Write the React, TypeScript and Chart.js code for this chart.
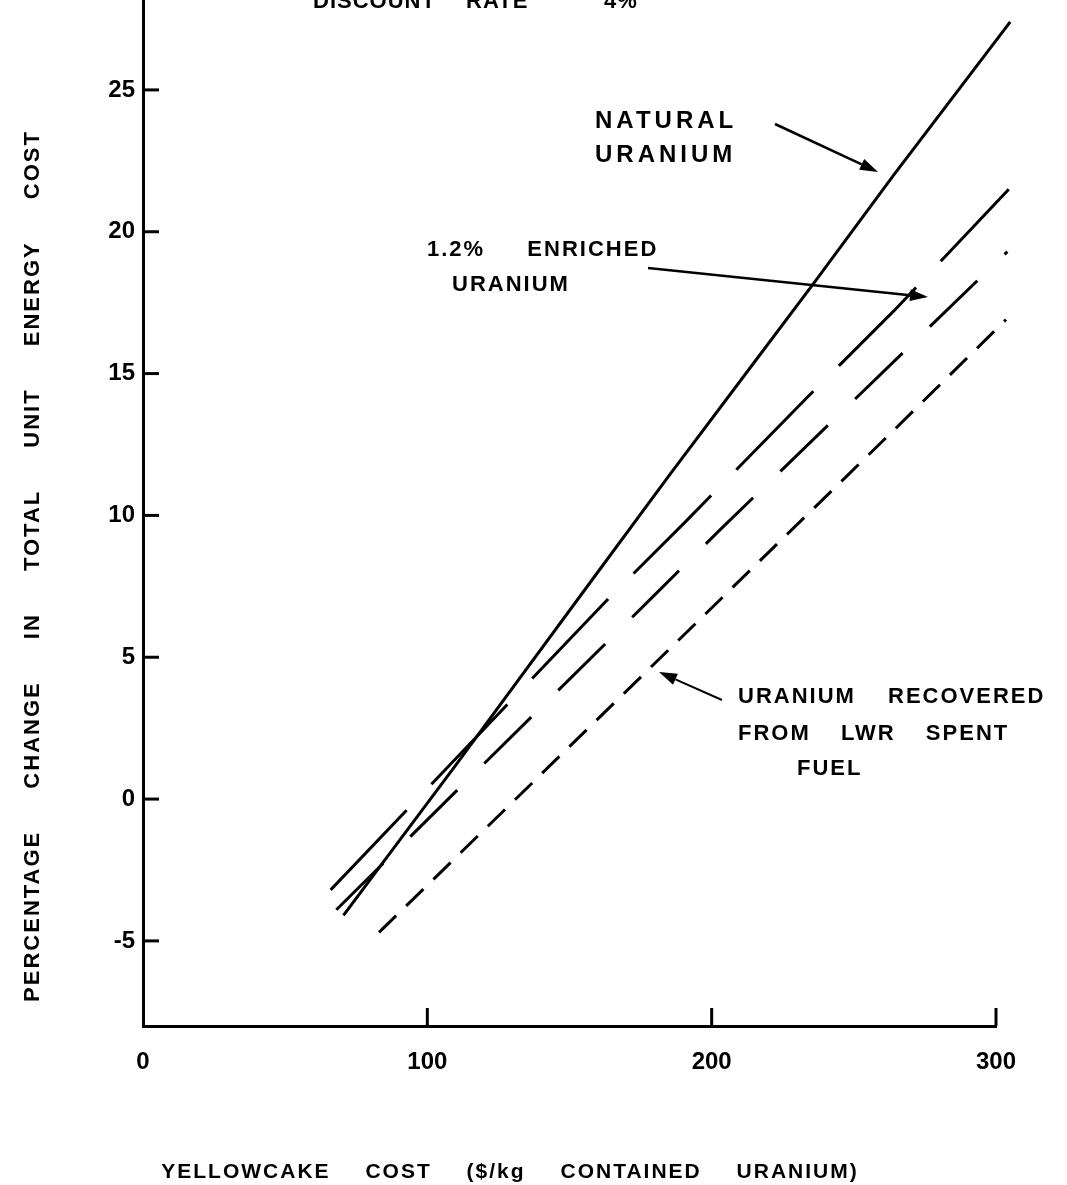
import React, { useEffect, useRef } from "react";
import { Chart, registerables } from "chart.js";

Chart.register(...registerables);

// ---- data ----
const X_TICKS = [0, 100, 200, 300];
const Y_TICKS = [-5, 0, 5, 10, 15, 20, 25];

const NATURAL_X = [70.5, 110, 157, 185, 215, 236, 264, 305];
const NATURAL_Y = [-4.1, 1.2, 7.6, 11.4, 15.4, 18.2, 22.0, 27.4];

const ENRICHED_X = [66, 164, 191, 234, 264, 304.5];
const ENRICHED_Y = [-3.2, 7.1, 9.8, 14.2, 17.2, 21.5];

const SECOND_X = [68, 179, 203, 304];
const SECOND_Y = [-3.9, 7.1, 9.5, 19.3];

const RECOVERED_X = [83, 263, 303.5];
const RECOVERED_Y = [-4.7, 12.9, 16.9];

const SERIES_NAMES = [
  "Natural uranium",
  "1.2% enriched uranium",
  "Enriched uranium (second case)",
  "Uranium recovered from LWR spent fuel",
];

const TITLE = "DISCOUNT  RATE     4%";
const X_TITLE = "YELLOWCAKE COST ($/kg CONTAINED URANIUM)";
const Y_TITLE = "PERCENTAGE CHANGE IN TOTAL UNIT ENERGY COST";

const W = 1067;
const H = 1185;
const FONT = "'Liberation Sans', Arial, sans-serif";

const pts = (xs: number[], ys: number[]) => xs.map((x, i) => ({ x, y: ys[i] }));

function arrow(ctx: CanvasRenderingContext2D, x1: number, y1: number, x2: number, y2: number, lw: number) {
  const ang = Math.atan2(y2 - y1, x2 - x1);
  const hl = 18;
  const hw = 6;
  const bx = x2 - hl * Math.cos(ang);
  const by = y2 - hl * Math.sin(ang);
  ctx.save();
  ctx.strokeStyle = "#000";
  ctx.fillStyle = "#000";
  ctx.lineWidth = lw;
  ctx.beginPath();
  ctx.moveTo(x1, y1);
  ctx.lineTo(bx, by);
  ctx.stroke();
  ctx.beginPath();
  ctx.moveTo(x2, y2);
  ctx.lineTo(bx + hw * Math.sin(ang), by - hw * Math.cos(ang));
  ctx.lineTo(bx - hw * Math.sin(ang), by + hw * Math.cos(ang));
  ctx.closePath();
  ctx.fill();
  ctx.restore();
}

function text(ctx: CanvasRenderingContext2D, s: string, x: number, y: number, size: number, ls: number, ws: number, align: CanvasTextAlign = "left") {
  ctx.save();
  ctx.font = `bold ${size}px ${FONT}`;
  (ctx as any).letterSpacing = `${ls}px`;
  (ctx as any).wordSpacing = `${ws}px`;
  ctx.fillStyle = "#000";
  ctx.textAlign = align;
  ctx.textBaseline = "middle";
  ctx.fillText(s, x, y);
  ctx.restore();
}

const decorations = {
  id: "decorations",
  afterDraw(chart: any) {
    const ctx: CanvasRenderingContext2D = chart.ctx;
    const xs = chart.scales.x;
    const ys = chart.scales.y;
    const area = chart.chartArea;
    ctx.save();
    ctx.strokeStyle = "#000";
    ctx.lineWidth = 3;
    // inward ticks
    Y_TICKS.forEach((v) => {
      const py = ys.getPixelForValue(v);
      ctx.beginPath();
      ctx.moveTo(area.left, py);
      ctx.lineTo(area.left + 16, py);
      ctx.stroke();
    });
    X_TICKS.filter((v) => v !== 0).forEach((v) => {
      const px = xs.getPixelForValue(v);
      ctx.beginPath();
      ctx.moveTo(px, area.bottom);
      ctx.lineTo(px, area.bottom - 18);
      ctx.stroke();
    });
    ctx.restore();

    // clipped title at top
    ctx.save();
    ctx.font = `bold 22px ${FONT}`;
    (ctx as any).letterSpacing = "1px";
    (ctx as any).wordSpacing = "8px";
    ctx.fillStyle = "#000";
    ctx.textBaseline = "alphabetic";
    ctx.fillText(TITLE, 313, 8);
    ctx.restore();

    // axis titles
    text(ctx, X_TITLE, 510, 1172, 21, 2, 27, "center");
    ctx.save();
    ctx.translate(33, 566);
    ctx.rotate(-Math.PI / 2);
    text(ctx, Y_TITLE, 0, 0, 22, 2, 34, "center");
    ctx.restore();

    // annotations
    text(ctx, "NATURAL", 595, 121, 24, 4, 0);
    text(ctx, "URANIUM", 595, 155, 24, 4, 0);
    arrow(ctx, 775, 124, 878, 172, 2.5);

    text(ctx, "1.2%  ENRICHED", 427, 250, 22, 2, 13);
    text(ctx, "URANIUM", 452, 285, 22, 2, 0);
    arrow(ctx, 648, 268, 928, 297, 2.5);

    text(ctx, "URANIUM RECOVERED", 738, 697, 22, 2, 24);
    text(ctx, "FROM LWR SPENT", 738, 734, 22, 2, 22);
    text(ctx, "FUEL", 797, 769, 22, 2, 0);
    arrow(ctx, 722, 700, 659, 672, 2);
  },
};

export default function App() {
  const ref = useRef<HTMLCanvasElement | null>(null);

  useEffect(() => {
    if (!ref.current) return;
    const common = {
      borderColor: "#000",
      borderWidth: 3,
      pointRadius: 0,
      showLine: true,
      fill: false,
      tension: 0,
      clip: false as any,
    };
    const chart = new Chart(ref.current, {
      type: "scatter",
      data: {
        datasets: [
          { ...common, label: SERIES_NAMES[0], data: pts(NATURAL_X, NATURAL_Y) },
          { ...common, label: SERIES_NAMES[1], data: pts(ENRICHED_X, ENRICHED_Y), borderDash: [110, 36] },
          { ...common, label: SERIES_NAMES[2], data: pts(SECOND_X, SECOND_Y), borderDash: [66, 38] },
          { ...common, label: SERIES_NAMES[3], data: pts(RECOVERED_X, RECOVERED_Y), borderDash: [24, 14] },
        ],
      },
      options: {
        animation: false,
        responsive: false,
        layout: { padding: { top: 0, right: 71, left: 0, bottom: 0 } },
        plugins: { legend: { display: false }, tooltip: { enabled: false }, title: { display: false } },
        scales: {
          x: {
            type: "linear",
            min: 0,
            max: 300,
            afterBuildTicks: (s: any) => {
              s.ticks = X_TICKS.map((v) => ({ value: v }));
            },
            afterFit: (s: any) => {
              s.height = 159;
              s.paddingLeft = 0;
              s.paddingRight = 0;
            },
            grid: { display: false, drawTicks: false },
            border: { display: true, color: "#000", width: 3 },
            ticks: {
              color: "#000",
              padding: 22,
              maxRotation: 0,
              font: { family: FONT, size: 24, weight: "bold" },
            },
          },
          y: {
            type: "linear",
            min: -8,
            max: 28.17,
            afterBuildTicks: (s: any) => {
              s.ticks = Y_TICKS.map((v) => ({ value: v }));
            },
            afterFit: (s: any) => {
              s.width = 143;
              s.paddingTop = 0;
              s.paddingBottom = 0;
            },
            grid: { display: false, drawTicks: false },
            border: { display: true, color: "#000", width: 3 },
            ticks: {
              color: "#000",
              padding: 8,
              font: { family: FONT, size: 24, weight: "bold" },
            },
          },
        },
      },
      plugins: [decorations],
    });
    return () => chart.destroy();
  }, []);

  return (
    <div style={{ position: "absolute", left: 0, top: 0, width: W, height: H, background: "#fff" }}>
      <canvas ref={ref} width={W} height={H} style={{ display: "block", width: W, height: H }} />
    </div>
  );
}
